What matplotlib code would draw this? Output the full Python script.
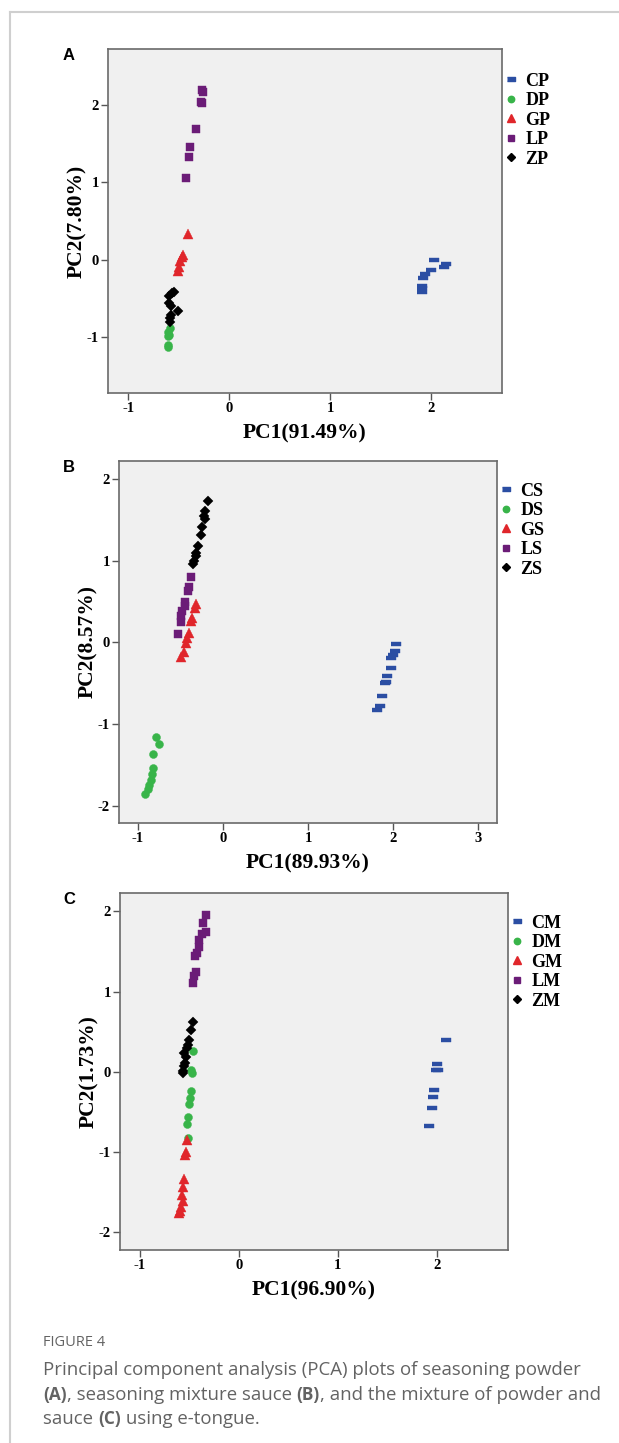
import numpy as np
import matplotlib
matplotlib.use("Agg")
import matplotlib.pyplot as plt
from matplotlib.lines import Line2D

plt.rcParams["axes.unicode_minus"] = False

# ---- data ----
# panel A: seasoning powder
cp_x = [2.03, 2.15, 2.13, 2.00, 1.94, 1.92, 1.91, 1.91, 1.91]
cp_y = [0.00, -0.05, -0.10, -0.13, -0.18, -0.23, -0.34, -0.37, -0.42]
dp_x = [-0.59, -0.61, -0.61, -0.60, -0.61, -0.61]
dp_y = [-0.88, -0.93, -0.99, -0.97, -1.10, -1.12]
gp_x = [-0.41, -0.46, -0.47, -0.49, -0.50, -0.51]
gp_y = [0.33, 0.06, 0.03, -0.02, -0.10, -0.15]
lp_x = [-0.27, -0.26, -0.28, -0.27, -0.33, -0.39, -0.40, -0.43]
lp_y = [2.19, 2.17, 2.04, 2.02, 1.69, 1.46, 1.32, 1.06]
zp_x = [-0.55, -0.57, -0.60, -0.60, -0.58, -0.51, -0.58, -0.59, -0.59]
zp_y = [-0.41, -0.43, -0.47, -0.56, -0.60, -0.66, -0.71, -0.75, -0.80]

# panel B: seasoning mixture sauce
cs_x = [2.03, 2.02, 2.00, 1.98, 1.98, 1.925, 1.92, 1.90, 1.875, 1.85, 1.81]
cs_y = [-0.02, -0.10, -0.16, -0.19, -0.31, -0.41, -0.48, -0.50, -0.66, -0.78, -0.83]
ds_x = [-0.78, -0.75, -0.82, -0.825, -0.83, -0.84, -0.87, -0.88, -0.91]
ds_y = [-1.16, -1.24, -1.37, -1.54, -1.61, -1.68, -1.75, -1.80, -1.85]
gs_x = [-0.32, -0.325, -0.36, -0.375, -0.40, -0.42, -0.43, -0.46, -0.49]
gs_y = [0.47, 0.42, 0.30, 0.26, 0.11, 0.05, -0.01, -0.12, -0.18]
ls_x = [-0.375, -0.40, -0.41, -0.44, -0.45, -0.48, -0.49, -0.49, -0.53]
ls_y = [0.80, 0.68, 0.63, 0.50, 0.45, 0.38, 0.32, 0.25, 0.10]
zs_x = [-0.175, -0.21, -0.22, -0.21, -0.25, -0.26, -0.29, -0.31, -0.32, -0.34, -0.35]
zs_y = [1.73, 1.61, 1.55, 1.51, 1.41, 1.32, 1.18, 1.10, 1.06, 1.00, 0.96]

# panel C: mixture of powder and sauce
cm_x = [2.09, 2.00, 2.01, 1.99, 1.97, 1.96, 1.955, 1.925]
cm_y = [0.40, 0.10, 0.025, 0.02, -0.23, -0.31, -0.45, -0.67]
dm_x = [-0.46, -0.48, -0.47, -0.48, -0.49, -0.50, -0.51, -0.52, -0.51]
dm_y = [0.255, 0.025, -0.01, -0.24, -0.33, -0.40, -0.56, -0.65, -0.83]
gm_x = [-0.52, -0.53, -0.54, -0.55, -0.565, -0.57, -0.565, -0.58, -0.59, -0.60]
gm_y = [-0.85, -1.00, -1.04, -1.33, -1.44, -1.54, -1.61, -1.68, -1.74, -1.76]
lm_x = [-0.335, -0.36, -0.335, -0.37, -0.40, -0.405, -0.42, -0.44, -0.43, -0.45, -0.46]
lm_y = [1.96, 1.85, 1.74, 1.72, 1.64, 1.56, 1.48, 1.45, 1.24, 1.20, 1.11]
zm_x = [-0.46, -0.485, -0.50, -0.51, -0.525, -0.55, -0.53, -0.54, -0.55, -0.56, -0.56]
zm_y = [0.62, 0.52, 0.40, 0.34, 0.30, 0.23, 0.19, 0.11, 0.07, 0.01, -0.01]

xlabels = ["PC1(91.49%)", "PC1(89.93%)", "PC1(96.90%)"]
ylabels = ["PC2(7.80%)", "PC2(8.57%)", "PC2(1.73%)"]
panel_letters = ["A", "B", "C"]

# colours / markers for the five groups (C, D, G, L, Z)
colors = ["#2b4ea3", "#38b449", "#e0262b", "#6b1c77", "#000000"]
dash = [(-1, -0.42), (1, -0.42), (1, 0.42), (-1, 0.42)]
markers = [dash, "o", "^", "s", "D"]
msizes = [6.0, 4.6, 5.2, 4.6, 4.4]

serif = "Liberation Serif"

W, H = 619, 1443
fig = plt.figure(figsize=(W / 100, H / 100), dpi=100)
fig.patch.set_facecolor("white")

# outer page frame
fig.add_artist(Line2D([10 / W, 1], [1 - 12 / H, 1 - 12 / H], color="#cfcfcf", lw=1.5))
fig.add_artist(Line2D([10 / W, 10 / W], [0, 1 - 12 / H], color="#cfcfcf", lw=1.5))

# axes boxes in pixel coords: left, right, top, bottom
boxes = [(108, 502, 49, 393), (119, 497, 461, 823), (120, 508, 893, 1250)]
xlims = [(-1.2, 2.7), (-1.22, 3.22), (-1.2, 2.72)]
ylims = [(-1.72, 2.72), (-2.21, 2.22), (-2.22, 2.23)]
xticks = [[-1, 0, 1, 2], [-1, 0, 1, 2, 3], [-1, 0, 1, 2]]
yticks = [[-1, 0, 1, 2], [-2, -1, 0, 1, 2], [-2, -1, 0, 1, 2]]

panels = [
    [(cp_x, cp_y, "CP"), (dp_x, dp_y, "DP"), (gp_x, gp_y, "GP"), (lp_x, lp_y, "LP"), (zp_x, zp_y, "ZP")],
    [(cs_x, cs_y, "CS"), (ds_x, ds_y, "DS"), (gs_x, gs_y, "GS"), (ls_x, ls_y, "LS"), (zs_x, zs_y, "ZS")],
    [(cm_x, cm_y, "CM"), (dm_x, dm_y, "DM"), (gm_x, gm_y, "GM"), (lm_x, lm_y, "LM"), (zm_x, zm_y, "ZM")],
]
legend_tops = [69, 479, 911]

for i, groups in enumerate(panels):
    l, r, t, b = boxes[i]
    ax = fig.add_axes([l / W, 1 - b / H, (r - l) / W, (b - t) / H])
    ax.set_facecolor("#f0f0f0")
    handles = []
    for k, (gx, gy, name) in enumerate(groups):
        ax.plot(gx, gy, ls="none", marker=markers[k], ms=msizes[k] * 1.25,
                color=colors[k], mec=colors[k], mew=0.3)
        handles.append(Line2D([], [], ls="none", marker=markers[k], ms=msizes[k],
                              color=colors[k], mec=colors[k], label=name))
    ax.set_xlim(*xlims[i])
    ax.set_ylim(*ylims[i])
    ax.set_xticks(xticks[i])
    ax.set_yticks(yticks[i])
    ax.tick_params(direction="out", length=5, width=1, color="#555555",
                   labelsize=10.5, pad=1.5, top=False, right=False)
    for lab in ax.get_xticklabels() + ax.get_yticklabels():
        lab.set_fontfamily(serif)
        lab.set_fontweight("bold")
    for sp in ax.spines.values():
        sp.set_color("#6a6a6a")
        sp.set_linewidth(1.2)
    ax.set_xlabel(xlabels[i], family=serif, weight="bold", fontsize=15.5, labelpad=6)
    ax.set_ylabel(ylabels[i], family=serif, weight="bold", fontsize=15.5, labelpad=0)

    fig.legend(handles=handles, loc="upper left",
               bbox_to_anchor=(r / W, 1 - legend_tops[i] / H),
               frameon=False, handlelength=0.6, handletextpad=0.5,
               labelspacing=0.14, borderaxespad=0, borderpad=0.2,
               prop={"family": serif, "weight": "bold", "size": 13})

    fig.text(63 / W, 1 - (t + 6) / H, panel_letters[i], family="Liberation Sans",
             weight="bold", fontsize=12, ha="left", va="center")

# caption
cap_font = "Open Sans"
cap_col = "#636363"
fig.text(43 / W, 1 - 1342 / H, "FIGURE 4", family=cap_font, fontsize=10.5,
         color=cap_col, va="center", ha="left")

lines = [
    [("Principal component analysis (PCA) plots of seasoning powder", "normal")],
    [("(A)", "bold"), (", seasoning mixture sauce ", "normal"), ("(B)", "bold"),
     (", and the mixture of powder and", "normal")],
    [("sauce ", "normal"), ("(C)", "bold"), (" using e-tongue.", "normal")],
]
line_y = [1370, 1395, 1419]
for runs, yy in zip(lines, line_y):
    prev = None
    for txt, wt in runs:
        fs = 13.4 if wt == "normal" else 12.4
        if prev is None:
            prev = fig.text(43 / W, 1 - yy / H, txt, family=cap_font, fontsize=fs,
                            weight=wt, color=cap_col, va="center", ha="left")
        else:
            prev = ax.annotate(txt, xy=(1, 0), xycoords=prev,
                               va="bottom", ha="left", family=cap_font,
                               fontsize=fs, weight=wt, color=cap_col,
                               annotation_clip=False)

fig.savefig("out.png", dpi=100)
